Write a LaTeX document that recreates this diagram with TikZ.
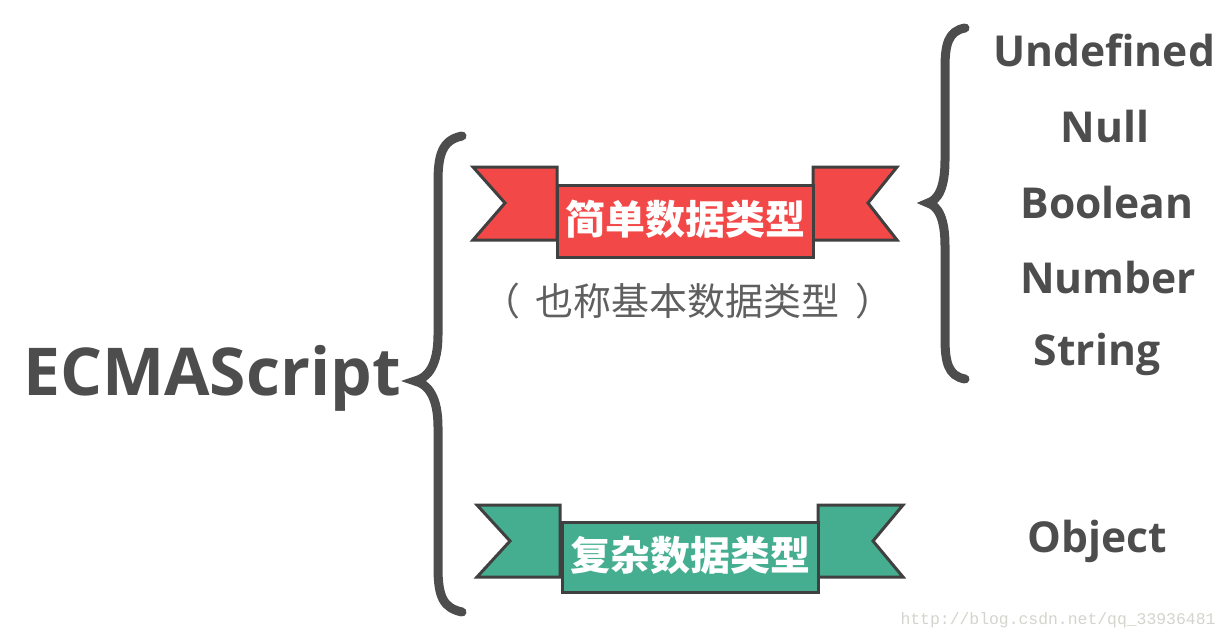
\documentclass[tikz,border=0pt]{standalone}
\usepackage{fontspec}
\setmainfont{Open Sans}
\newfontfamily\cjk{Noto Sans CJK SC}
\newfontfamily\webfont{Liberation Mono}
\usepackage{xcolor}
\definecolor{ink}{HTML}{4D4D4D}
\definecolor{edge}{HTML}{404040}
\definecolor{simplered}{HTML}{F24848}
\definecolor{complexgreen}{HTML}{45AE90}
\definecolor{mark}{HTML}{D4D4CC}

\tikzset{
  curly/.style={line width=4.5pt,color=ink,line cap=round},
  ribbon/.style={draw=edge,line width=1.5pt,line join=miter},
  kind/.style={text=white,font=\cjk\bfseries\fontsize{20}{20}\selectfont},
  item/.style={text=ink,font=\bfseries\fontsize{21.3}{21.3}\selectfont}
}

\begin{document}
\begin{tikzpicture}[x=0.5pt,y=-0.5pt]
\useasboundingbox(0,0)rectangle(1230,642);
% root
\node[text=ink,font=\bfseries\fontsize{33}{33}\selectfont](root)at(212,378){ECMAScript};
% braces
\draw[curly](462,136)..controls(442,140)and(438,155)..(438,182)--(438,335)..controls(438,365)and(428,378)..(415,381)..controls(428,384)and(438,397)..(438,427)--(438,568)..controls(438,598)and(444,608)..(462,612);
\draw[curly](965,28)..controls(948,31)and(945,45)..(945,68)--(945,160)..controls(945,188)and(938,200)..(928,203)..controls(938,206)and(945,218)..(945,246)--(945,338)..controls(945,362)and(948,376)..(965,379);
% simple types
\draw[ribbon,fill=simplered](473,167)--(557,167)--(557,240)--(473,240)--(505,203)--cycle;
\draw[ribbon,fill=simplered](813,167)--(897,167)--(868,203)--(897,240)--(813,240)--cycle;
\draw[ribbon,fill=simplered](557,185)rectangle(813,257);
\node[kind](simple)at(685,219){简单数据类型};
\node[text=ink!90,font=\cjk\fontsize{19}{19}\selectfont](alias)at(688,301){（\hspace{0.4em}也称基本数据类型\hspace{0.4em}）};
% complex types
\draw[ribbon,fill=complexgreen](477,505)--(560,505)--(560,577)--(477,577)--(510,541)--cycle;
\draw[ribbon,fill=complexgreen](818,505)--(903,505)--(873,541)--(903,577)--(818,577)--cycle;
\draw[ribbon,fill=complexgreen](562,522)rectangle(818,592);
\node[kind](complex)at(690,555){复杂数据类型};
% values
\node[item](undef)at(1104,50){Undefined};
\node[item](null)at(1105,127){Null};
\node[item](bool)at(1107,203){Boolean};
\node[item](num)at(1108,278){Number};
\node[item](str)at(1097,354){String};
\node[item](obj)at(1097,541){Object};
\node[text=mark,font=\webfont\fontsize{8.2}{8.2}\selectfont](url)at(1058,620){http://blog.csdn.net/qq\_33936481};
\end{tikzpicture}
\end{document}
